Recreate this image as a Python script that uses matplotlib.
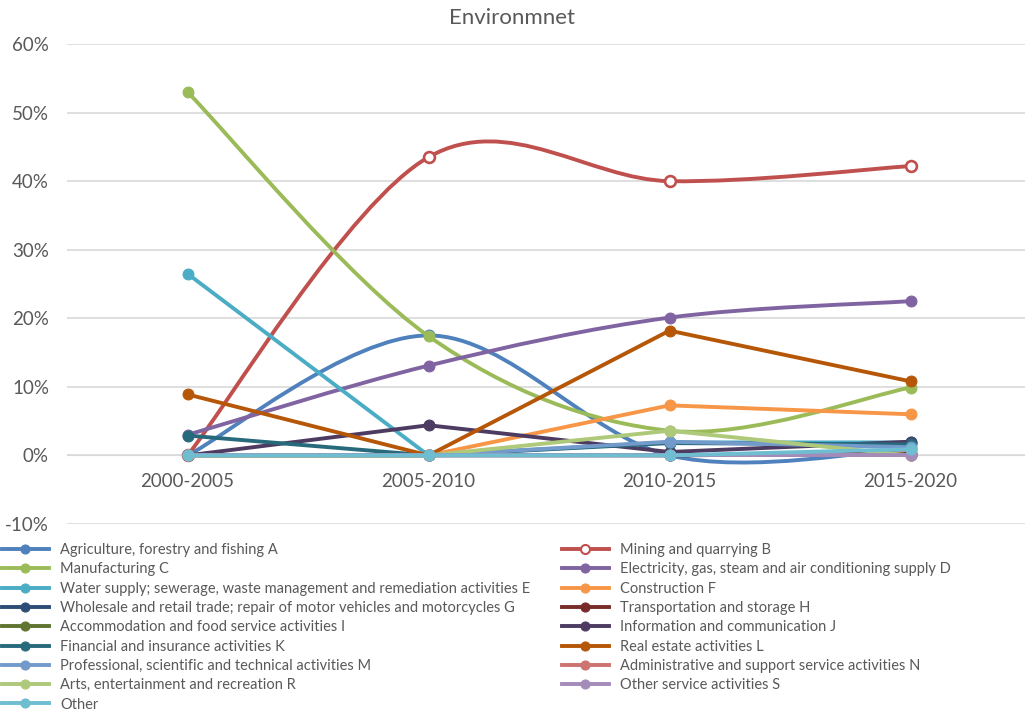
import matplotlib
matplotlib.use("Agg")
import matplotlib.pyplot as plt
from matplotlib.path import Path
from matplotlib.patches import PathPatch
from matplotlib.lines import Line2D
from matplotlib.ticker import FuncFormatter

plt.rcParams['font.family'] = ['Lato', 'DejaVu Sans']

# ---- data (percent) ----
periods = ["2000-2005", "2005-2010", "2010-2015", "2015-2020"]

names = [
    "Agriculture, forestry and fishing A",
    "Mining and quarrying B",
    "Manufacturing C",
    "Electricity, gas, steam and air conditioning supply D",
    "Water supply; sewerage, waste management and remediation activities E",
    "Construction F",
    "Wholesale and retail trade; repair of motor vehicles and motorcycles G",
    "Transportation and storage H",
    "Accommodation and food service activities I",
    "Information and communication J",
    "Financial and insurance activities K",
    "Real estate activities L",
    "Professional, scientific and technical activities M",
    "Administrative and support service activities N",
    "Arts, entertainment and recreation R",
    "Other service activities S",
    "Other",
]

agri_A      = [0.0, 17.5, 0.0, 1.0]
mining_B    = [0.0, 43.5, 40.0, 42.2]
manuf_C     = [53.0, 17.4, 3.6, 9.9]
elec_D      = [3.0, 13.1, 20.1, 22.5]
water_E     = [26.5, 0.0, 1.9, 1.9]
constr_F    = [0.0, 0.0, 7.3, 6.0]
whole_G     = [0.0, 0.0, 0.0, 0.0]
transp_H    = [0.0, 0.0, 0.0, 0.3]
accom_I     = [0.0, 0.0, 0.0, 0.0]
info_J      = [0.0, 4.4, 0.5, 2.0]
fin_K       = [2.9, 0.0, 1.8, 1.6]
realest_L   = [8.9, 0.0, 18.2, 10.8]
prof_M      = [0.0, 0.0, 2.0, 1.2]
admin_N     = [0.0, 0.0, 0.0, 0.0]
arts_R      = [0.0, 0.0, 3.6, 0.0]
otherserv_S = [0.0, 0.0, 0.0, 0.0]
other       = [0.0, 0.0, 0.0, 0.9]

series = [agri_A, mining_B, manuf_C, elec_D, water_E, constr_F, whole_G, transp_H,
          accom_I, info_J, fin_K, realest_L, prof_M, admin_N, arts_R, otherserv_S, other]

colors = ['#4F81BD', '#C0504D', '#9BBB59', '#8064A2', '#4BACC6', '#F79646',
          '#2C4D75', '#772C2A', '#5F7530', '#4D3B62', '#276A7C', '#B65708',
          '#729ACA', '#CD7371', '#AFC97A', '#A48CBA', '#6FBDD1']

smooth = {0, 1, 2, 3}   # series drawn with excel-style smoothed lines
hollow = {1}            # series with white-filled markers

TXT = '#595959'
GRID = '#D9D9D9'


def smooth_path(xs, ys):
    # catmull-rom -> cubic bezier, like excel "smoothed line"
    pts = list(zip(xs, ys))
    n = len(pts)
    verts = [pts[0]]
    codes = [Path.MOVETO]
    for i in range(n - 1):
        p0 = pts[i - 1] if i > 0 else pts[i]
        p1 = pts[i]
        p2 = pts[i + 1]
        p3 = pts[i + 2] if i + 2 < n else pts[i + 1]
        c1 = (p1[0] + (p2[0] - p0[0]) / 6, p1[1] + (p2[1] - p0[1]) / 6)
        c2 = (p2[0] - (p3[0] - p1[0]) / 6, p2[1] - (p3[1] - p1[1]) / 6)
        verts += [c1, c2, p2]
        codes += [Path.CURVE4] * 3
    return Path(verts, codes)


fig = plt.figure(figsize=(10.25, 7.13), dpi=100)
ax = fig.add_axes([67 / 1025, 1 - 524 / 713, 964 / 1025, 480 / 713])

x = list(range(len(periods)))
lw = 2.8
ms = 7.8
handles = []
for i, (vals, c) in enumerate(zip(series, colors)):
    z = 3 + i * 0.01
    if i in smooth:
        ax.add_patch(PathPatch(smooth_path(x, vals), facecolor='none', edgecolor=c,
                               lw=lw, capstyle='round', joinstyle='round', zorder=z))
    else:
        ax.plot(x, vals, color=c, lw=lw, solid_capstyle='round',
                solid_joinstyle='round', zorder=z)
    mfc = 'white' if i in hollow else c
    ax.plot(x, vals, ls='none', marker='o', ms=ms, mfc=mfc, mec=c,
            mew=1.9 if i in hollow else 0.8, zorder=z + 0.005)
    handles.append(Line2D([0], [0], color=c, lw=lw, marker='o', ms=6.5,
                          mfc=mfc, mec=c, mew=1.5 if i in hollow else 0.8))

ax.set_xlim(-0.5, 3.5)
ax.set_ylim(-10, 60)
ax.set_yticks(range(-10, 61, 10))
ax.yaxis.set_major_formatter(FuncFormatter(lambda v, p: f"{v:.0f}%"))
ax.set_xticks(x)
ax.set_xticklabels(periods)
ax.grid(axis='y', color=GRID, lw=1.2)
ax.set_axisbelow(True)
for s in ['top', 'right', 'left']:
    ax.spines[s].set_visible(False)
ax.spines['bottom'].set_position(('data', 0))
ax.spines['bottom'].set_color(GRID)
ax.tick_params(axis='x', length=0, pad=13, labelsize=13.5, labelcolor=TXT)
ax.tick_params(axis='y', length=0, pad=13, labelsize=13.5, labelcolor=TXT)

fig.text(512 / 1025, 1 - 18 / 713, "Environmnet", ha='center', va='center',
         fontsize=16, color=TXT)

# legend: excel order is row-wise, two columns
left_idx = list(range(0, 17, 2))
right_idx = list(range(1, 17, 2))
leg_kw = dict(frameon=False, fontsize=10.5, labelcolor=TXT, handlelength=3.2,
              handletextpad=0.8, labelspacing=0.365, borderpad=0, borderaxespad=0,
              loc='upper left')
leg1 = fig.legend([handles[i] for i in left_idx], [names[i] for i in left_idx],
                  bbox_to_anchor=(2 / 1025, 1 - 543 / 713), **leg_kw)
leg2 = fig.legend([handles[i] for i in right_idx], [names[i] for i in right_idx],
                  bbox_to_anchor=(562 / 1025, 1 - 543 / 713), **leg_kw)

fig.savefig("out.png", dpi=100)
